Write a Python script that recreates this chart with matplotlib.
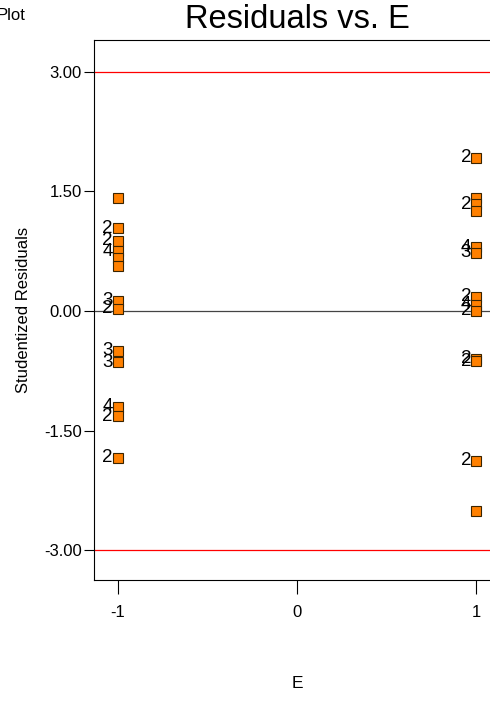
import matplotlib
matplotlib.use('Agg')
import matplotlib.pyplot as plt

plt.rcParams['font.family'] = ['Liberation Sans', 'DejaVu Sans']

# factor levels and the studentized residuals observed at each level
e_levels = [-1, 1]
resid_lo = [1.42, 1.04, 0.88, 0.75, 0.66, 0.56, 0.13, 0.03, -0.50, -0.64, -1.20, -1.32, -1.84]
count_lo = [1, 2, 2, 4, 1, 1, 3, 2, 3, 3, 4, 2, 2]
resid_hi = [1.92, 1.42, 1.34, 1.25, 0.80, 0.73, 0.18, 0.08, 0.00, -0.60, -0.63, -1.88, -2.51]
count_hi = [2, 1, 2, 1, 4, 3, 2, 4, 2, 2, 2, 2, 1]

limit = 3.0
yticks = [-3.0, -1.5, 0.0, 1.5, 3.0]
xticks = [-1, 0, 1]

fig = plt.figure(figsize=(4.9, 7.04), dpi=100)
ax = fig.add_axes([94 / 490, 1 - 580 / 704, 406 / 490, 540 / 704])

ax.axhline(limit, color='red', lw=0.9, zorder=1)
ax.axhline(-limit, color='red', lw=0.9, zorder=1)
ax.axhline(0, color='#444444', lw=0.9, zorder=1)

for lvl, res, cnt in zip(e_levels, [resid_lo, resid_hi], [count_lo, count_hi]):
    ax.plot([lvl] * len(res), res, ls='none', marker='s', markersize=7.2,
            markerfacecolor='#FF8000', markeredgecolor='#3a2400',
            markeredgewidth=0.8, zorder=3)
    # number of coincident runs, written left of the marker
    for r, c in zip(res, cnt):
        if c > 1:
            ax.annotate(str(c), (lvl, r), xytext=(-3.6, 0), textcoords='offset points',
                        ha='right', va='center', fontsize=13.5, color='black', zorder=4)

ax.set_xlim(-1.134, 1.134)
ax.set_ylim(-3.375, 3.4)
ax.set_yticks(yticks)
ax.set_yticklabels(['%.2f' % v for v in yticks])
ax.set_xticks(xticks)
ax.set_xticklabels([str(v) for v in xticks])

ax.tick_params(axis='y', direction='out', length=7.5, width=0.8, pad=1.5, labelsize=12)
ax.tick_params(axis='x', direction='out', length=10, width=0.8, pad=8, labelsize=12)
for s in ax.spines.values():
    s.set_linewidth(0.8)
ax.spines['right'].set_visible(False)

ax.set_title('Residuals vs. E', fontsize=23.5, pad=9)
ax.set_ylabel('Studentized Residuals', fontsize=12, labelpad=9)
ax.set_xlabel('E', fontsize=12.5, labelpad=40)

fig.text(-3 / 490, 1 - 15 / 704, 'Plot', fontsize=12, ha='left', va='center')

fig.savefig('out.png', dpi=100)
